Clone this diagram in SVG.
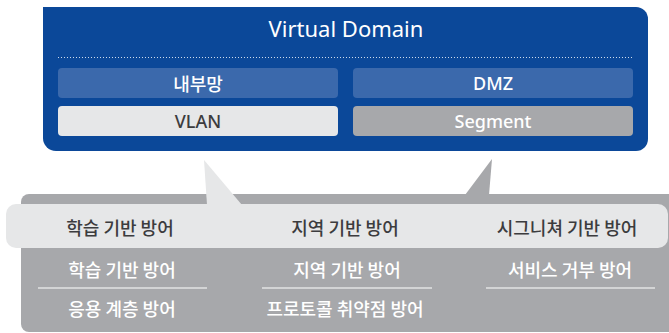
<svg xmlns="http://www.w3.org/2000/svg" width="669" height="333" viewBox="0 0 669 333">
  <style>
    .lat { font-family: "Noto Sans", "Liberation Sans", sans-serif; text-anchor: middle; font-weight: 500; }
    .title { font-weight: 400; font-size: 22px; }
    .kr { font-family: "Noto Sans CJK KR", "Noto Sans", sans-serif; text-anchor: middle; font-size: 18px; font-weight: 500; }
    .dark { fill: #3c3c3e; }
    .white { fill: #ffffff; }
    .rule { stroke: #ffffff; stroke-width: 1.2; }
  </style>

  <!-- Virtual Domain panel -->
  <g id="virtual-domain">
    <path d="M43,7 H636 A12,12 0 0 1 648,19 V139 A12,12 0 0 1 636,151 H56 A13,13 0 0 1 43,138 Z" fill="#0b4899"/>
    <text class="lat title white" x="346" y="37">Virtual Domain</text>
    <line x1="58" y1="57.5" x2="633" y2="57.5" stroke="#ffffff" stroke-width="1" stroke-dasharray="1 2" opacity="0.8"/>
  </g>
  <g id="node-internal">
    <rect x="58" y="68" width="280" height="30" rx="4" fill="#3b69ac"/>
    <text class="kr white" x="198" y="91">내부망</text>
  </g>
  <g id="node-dmz">
    <rect x="353" y="68" width="280" height="30" rx="4" fill="#3b69ac"/>
    <text class="lat white" x="493" y="90" font-size="18">DMZ</text>
  </g>
  <g id="node-vlan">
    <rect x="58" y="106" width="280" height="30" rx="4" fill="#e6e7e8"/>
    <text class="lat dark" x="198" y="128" font-size="18">VLAN</text>
  </g>
  <g id="node-segment">
    <rect x="353" y="106" width="280" height="30" rx="4" fill="#a7a8ab"/>
    <text class="lat white" x="493" y="128" font-size="18">Segment</text>
  </g>

  <!-- defence panel -->
  <g id="defence-panel">
    <rect x="21" y="194" width="660" height="138" rx="8" fill="#a7a8ab"/>
  </g>

  <!-- callout pointers -->
  <g id="connectors">
    <polygon points="204,160 207,205 242,205" fill="#e6e7e8"/>
    <polygon points="492,159 489,195 465,195" fill="#a7a8ab"/>
  </g>

  <g id="defence-highlight">
    <rect x="6" y="204" width="662" height="44" rx="10" fill="#e6e7e8"/>
    <text class="kr dark" x="120" y="235">학습 기반 방어</text>
    <text class="kr dark" x="345" y="235">지역 기반 방어</text>
    <text class="kr dark" x="567" y="235">시그니쳐 기반 방어</text>
  </g>

  <g id="defence-col1">
    <text class="kr white" x="122" y="277">학습 기반 방어</text>
    <line class="rule" x1="38" y1="288" x2="207" y2="288"/>
    <text class="kr white" x="122" y="316">응용 계층 방어</text>
  </g>
  <g id="defence-col2">
    <text class="kr white" x="347" y="277">지역 기반 방어</text>
    <line class="rule" x1="262" y1="288" x2="432" y2="288"/>
    <text class="kr white" x="345" y="316">프로토콜 취약점 방어</text>
  </g>
  <g id="defence-col3">
    <text class="kr white" x="570" y="277">서비스 거부 방어</text>
    <line class="rule" x1="486" y1="288" x2="655" y2="288"/>
  </g>
</svg>
